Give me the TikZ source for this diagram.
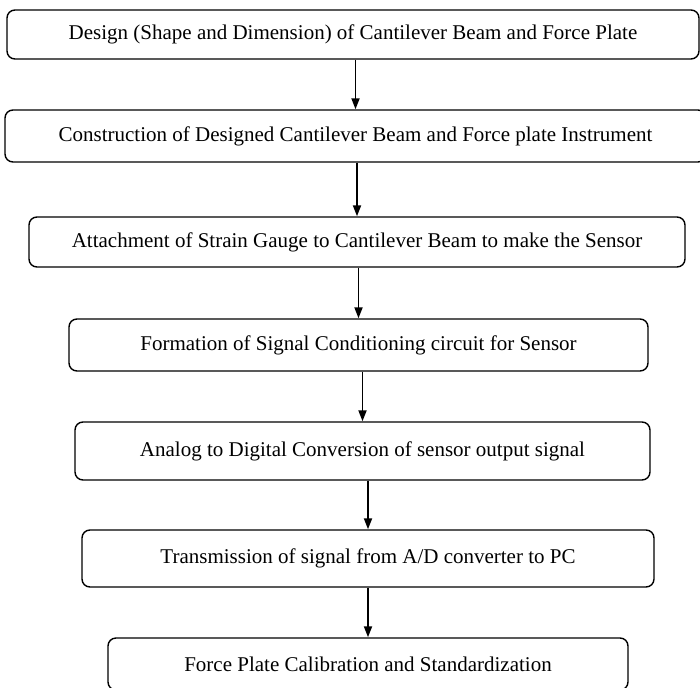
\documentclass[tikz,border=0pt]{standalone}
\usepackage{fontspec}
\setmainfont{Liberation Serif}
\usetikzlibrary{arrows.meta}
\tikzset{
  stage-box/.style={
    draw=black,
    line width=1.4pt,
    rounded corners=8pt,
    inner sep=0pt,
    align=center,
    font=\fontsize{21}{25}\selectfont
  },
  flow-arrow/.style={
    line width=1.8pt,
    -{Triangle[width=8pt,length=11pt]}
  }
}

\begin{document}
\begin{tikzpicture}[x=1pt,y=-1pt]
  \useasboundingbox (0,0) rectangle (700,687);
  % Stages of the force plate work
  \node[stage-box, minimum width=692pt, minimum height=49pt] (design) at (353,34.5)
    {Design (Shape and Dimension) of Cantilever Beam and Force Plate};
  \node[stage-box, minimum width=701pt, minimum height=52pt] (build) at (355.5,136)
    {Construction of Designed Cantilever Beam and Force plate Instrument};
  \node[stage-box, minimum width=656pt, minimum height=50pt] (attach) at (357,242)
    {Attachment of Strain Gauge to Cantilever Beam to make the Sensor};
  \node[stage-box, minimum width=579pt, minimum height=52pt] (cond) at (358.5,345)
    {Formation of Signal Conditioning circuit for Sensor};
  \node[stage-box, minimum width=575pt, minimum height=58pt] (adc) at (362.5,451)
    {Analog to Digital Conversion of sensor output signal};
  \node[stage-box, minimum width=572pt, minimum height=57pt] (pc) at (368,558.5)
    {Transmission of signal from A/D converter to PC};
  \node[stage-box, minimum width=520pt, minimum height=52pt] (calib) at (368,664)
    {Force Plate Calibration and Standardization};
  % Flow between stages
  \foreach \from/\to in {design/build, build/attach, attach/cond, cond/adc, adc/pc, pc/calib}
    \draw[flow-arrow] (\from.south -| \to.north) -- (\to.north);
\end{tikzpicture}
\end{document}
